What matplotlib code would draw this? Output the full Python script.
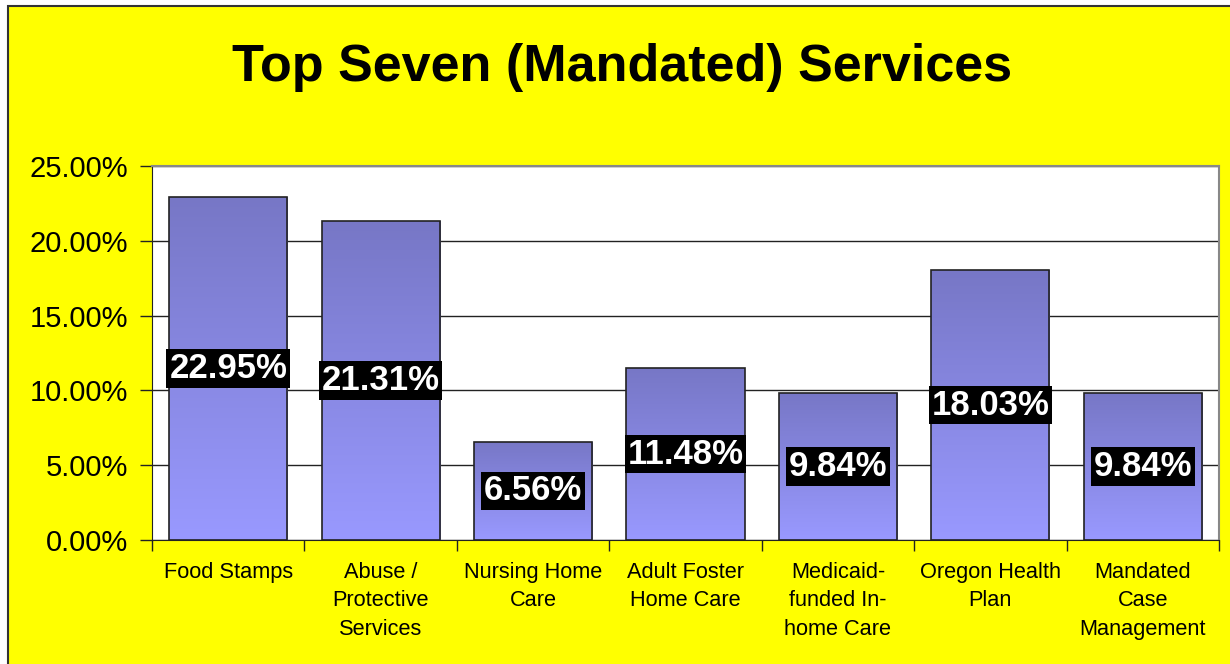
import matplotlib.pyplot as plt
import numpy as np
from matplotlib.patches import Rectangle
from matplotlib.colors import LinearSegmentedColormap
from matplotlib.ticker import FuncFormatter, MultipleLocator

plt.rcParams['font.family'] = ['Liberation Sans', 'DejaVu Sans']

categories = ["Food Stamps", "Abuse /\nProtective\nServices", "Nursing Home\nCare",
              "Adult Foster\nHome Care", "Medicaid-\nfunded In-\nhome Care",
              "Oregon Health\nPlan", "Mandated\nCase\nManagement"]
values = [22.95, 21.31, 6.56, 11.48, 9.84, 18.03, 9.84]
title = "Top Seven (Mandated) Services"

fig = plt.figure(figsize=(12.3, 6.64), dpi=100, facecolor='white')
# yellow chart area with dark border (left/top visible)
fig.patches.append(Rectangle((8 / 1230, -0.02), 1.05, 1 - 6 / 664 + 0.02,
                             transform=fig.transFigure, facecolor='#ffff00',
                             edgecolor='#333333', lw=1.5, zorder=-10))

ax = fig.add_axes([152 / 1230, 1 - 540 / 664, (1219 - 152) / 1230, (540 - 166) / 664])
ax.set_facecolor('white')

x = np.arange(len(values))
width = 0.775
bars = ax.bar(x, values, width=width, facecolor='none', edgecolor='#222222', lw=1.2, zorder=3)

cmap = LinearSegmentedColormap.from_list('bar', ['#9999ff', '#7777c6'])
grad = np.linspace(0, 1, 256).reshape(-1, 1)
for b in bars:
    x0, y0 = b.get_x(), b.get_y()
    w, h = b.get_width(), b.get_height()
    im = ax.imshow(grad, cmap=cmap, origin='lower', aspect='auto',
                   extent=[x0, x0 + w, y0, y0 + h], zorder=2)
    im.set_clip_path(b)

for xi, v in zip(x, values):
    ax.text(xi, v / 2, f"{v:.2f}%", ha='center', va='center', color='white',
            fontsize=25, fontweight='bold', zorder=5,
            bbox=dict(boxstyle='square,pad=0.08', facecolor='black', edgecolor='none'))

ax.set_xlim(-0.5, len(values) - 0.5)
ax.set_ylim(0, 25)
ax.yaxis.set_major_locator(MultipleLocator(5))
ax.yaxis.set_major_formatter(FuncFormatter(lambda v, p: f"{v:.2f}%"))
ax.grid(axis='y', color='#222222', lw=1, zorder=1)
ax.set_axisbelow(True)

ax.set_xticks(x)
ax.set_xticklabels(categories, fontsize=15.7, linespacing=1.45)
ax.set_xticks(np.arange(-0.5, len(values)), minor=True)
ax.tick_params(axis='x', which='major', length=0, pad=16)
ax.tick_params(axis='x', which='minor', length=8, width=1, color='#222222')
ax.tick_params(axis='y', length=9, width=1, color='#222222', labelsize=21, pad=8)

ax.spines['top'].set_color('#888888')
ax.spines['right'].set_color('#888888')
ax.spines['top'].set_linewidth(1.5)
ax.spines['right'].set_linewidth(1.5)
ax.spines['left'].set_color('#222222')
ax.spines['bottom'].set_color('#222222')

fig.text(622 / 1230, 1 - 68 / 664, title, ha='center', va='center',
         fontsize=37.5, fontweight='bold', color='black')

fig.savefig('out.png', dpi=100, facecolor=fig.get_facecolor())
